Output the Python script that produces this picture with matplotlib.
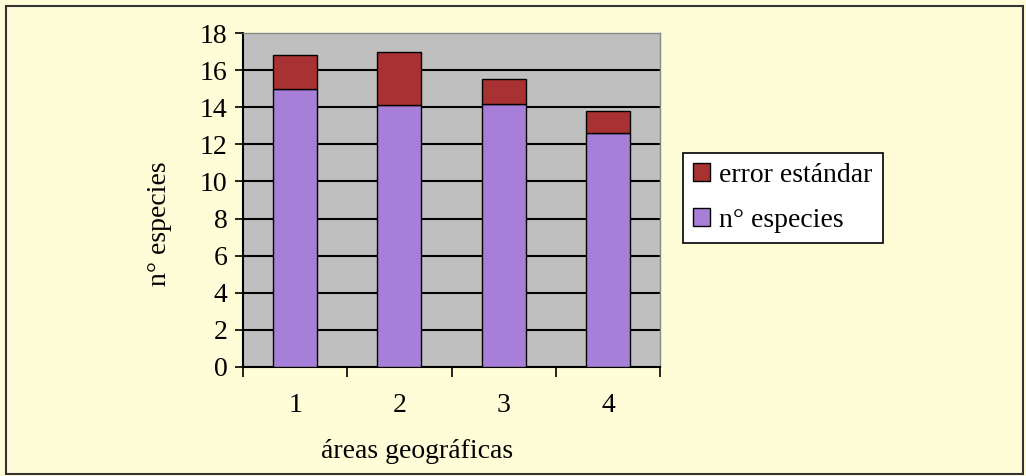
import matplotlib
matplotlib.use("Agg")
import matplotlib.pyplot as plt
from matplotlib.patches import Rectangle

categories = ["1", "2", "3", "4"]
n_especies = [15.0, 14.1, 14.2, 12.6]
error_estandar = [1.8, 2.9, 1.3, 1.2]
yticks = [0, 2, 4, 6, 8, 10, 12, 14, 16, 18]

plt.rcParams['font.family'] = ['Liberation Serif', 'DejaVu Serif']

bg = '#FEFDD8'
fig = plt.figure(figsize=(10.26, 4.76), dpi=100, facecolor=bg)
fig.patches.append(Rectangle((6/1026, 2/476), 1017/1026, 468/476, transform=fig.transFigure,
                             fill=False, edgecolor='#333333', linewidth=1.5))

W, H = 1026, 476
ax = fig.add_axes([243/W, 1 - 367/H, (660-243)/W, (367-33)/H])
ax.set_facecolor('#BFBFBF')

x = list(range(len(categories)))
ax.bar(x, n_especies, width=0.42, color='#A87FD8', edgecolor='black', linewidth=1.0,
       label='n° especies', zorder=3)
ax.bar(x, error_estandar, bottom=n_especies, width=0.42, color='#A83232', edgecolor='black',
       linewidth=1.0, label='error estándar', zorder=3)

ax.set_xlim(-0.5, len(categories) - 0.5)
ax.set_ylim(0, 18)
ax.set_yticks(yticks)
ax.set_yticklabels([str(v) for v in yticks], fontsize=20)
for v in yticks[1:-1]:
    ax.axhline(v, color='black', linewidth=1.5, zorder=2)

ax.set_xticks([i - 0.5 for i in range(len(categories) + 1)])
ax.set_xticklabels([])
ax.tick_params(axis='x', direction='out', length=7, width=1.2, colors='black')
ax.tick_params(axis='y', direction='out', length=6, width=1.2, pad=5)
for i, c in enumerate(categories):
    ax.text(i, -2.1, c, ha='center', va='center', fontsize=20)

for s in ['top', 'right']:
    ax.spines[s].set_color('#888888')
    ax.spines[s].set_linewidth(1.0)
for s in ['left', 'bottom']:
    ax.spines[s].set_color('black')
    ax.spines[s].set_linewidth(1.5)

fig.text(160/W, 1 - 224/H, 'n° especies', rotation=90, ha='center', va='center', fontsize=20)
fig.text(417/W, 1 - 451/H, 'áreas geográficas', ha='center', va='center', fontsize=20)

handles, labels = ax.get_legend_handles_labels()
leg = fig.legend(handles[::-1], labels[::-1], loc='upper left',
                 bbox_to_anchor=(683/W, 1 - 153/H), borderaxespad=0, fontsize=20, frameon=True,
                 fancybox=False, edgecolor='black', facecolor='white', framealpha=1,
                 handlelength=0.6, handleheight=0.6, handletextpad=0.35,
                 labelspacing=0.72, borderpad=0.36)
leg.get_frame().set_linewidth(1.2)

fig.savefig('out.png', dpi=100, facecolor=bg)
